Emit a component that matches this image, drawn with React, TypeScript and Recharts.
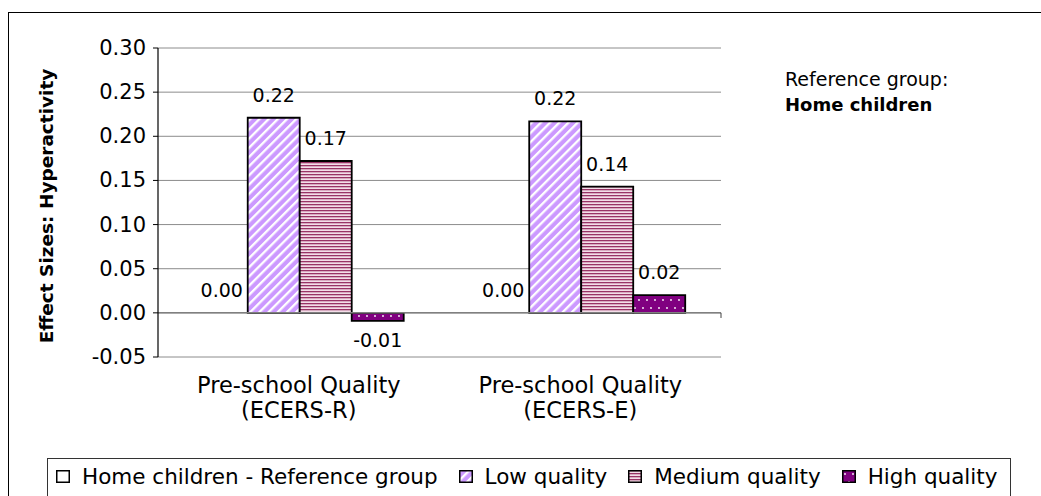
import React from "react";
import { BarChart, Bar, XAxis, YAxis, CartesianGrid, ReferenceLine, LabelList, Rectangle } from "recharts";

// ---------- data ----------
const categories = ["Pre-school Quality\n(ECERS-R)", "Pre-school Quality\n(ECERS-E)"];
const homeValues = [0, 0];
const lowValues = [0.221, 0.217];
const mediumValues = [0.172, 0.143];
const highValues = [-0.009, 0.02];
const yTicks = [-0.05, 0, 0.05, 0.1, 0.15, 0.2, 0.25, 0.3];
const seriesKeys = ["home", "low", "medium", "high"];
const seriesNames = ["Home children - Reference group", "Low quality", "Medium quality", "High quality"];
const yAxisTitle = "Effect Sizes: Hyperactivity";
const noteLine1 = "Reference group:";
const noteLine2 = "Home children";

const data = categories.map((c, i) => ({
  cat: c,
  home: homeValues[i],
  low: lowValues[i],
  medium: mediumValues[i],
  high: highValues[i],
}));

const FONT = "'DejaVu Sans', sans-serif";
const seriesFill: Record<string, string> = {
  home: "#ffffff",
  low: "url(#pLow)",
  medium: "url(#pMed)",
  high: "url(#pHigh)",
};

const PatternDefs = () => (
  <svg width={0} height={0} style={{ position: "absolute" }}>
    <defs>
      <pattern id="pLow" patternUnits="userSpaceOnUse" width={6.5} height={6.5} patternTransform="rotate(45)">
        <rect x={0} y={0} width={6.5} height={6.5} fill="#CC99FF" />
        <rect x={0} y={0} width={2.3} height={6.5} fill="#ffffff" />
      </pattern>
      <pattern id="pMed" patternUnits="userSpaceOnUse" width={6} height={3}>
        <rect x={0} y={0} width={6} height={3} fill="#f3dde8" />
        <rect x={0} y={0} width={6} height={1.3} fill="#993366" />
      </pattern>
      <pattern id="pHigh" patternUnits="userSpaceOnUse" width={16} height={16}>
        <rect x={0} y={0} width={16} height={16} fill="#800080" />
        <circle cx={3} cy={4} r={0.9} fill="#ffffff" />
        <circle cx={11} cy={4} r={0.9} fill="#ffffff" />
        <circle cx={7} cy={12} r={0.9} fill="#ffffff" />
        <circle cx={15} cy={12} r={0.9} fill="#ffffff" />
      </pattern>
    </defs>
  </svg>
);

const YTick = (p: any) => (
  <text x={p.x} y={p.y} textAnchor="end" dominantBaseline="central" fontFamily={FONT} fontSize={21} fill="#000">
    {Number(p.payload.value).toFixed(2)}
  </text>
);

const XTick = (p: any) => {
  const lines = String(p.payload.value).split("\n");
  return (
    <g>
      {lines.map((l: string, i: number) => (
        <text
          key={i}
          x={p.x}
          y={p.y + 28 + i * 25}
          textAnchor="middle"
          dominantBaseline="central"
          fontFamily={FONT}
          fontSize={22.5}
          fill="#000"
        >
          {l}
        </text>
      ))}
    </g>
  );
};

const valueLabel = (x: number, y: number, w: number, h: number, v: number) => {
  const top = Math.min(y, y + h);
  const bottom = Math.max(y, y + h);
  const cy = v < 0 ? bottom + 19 : top - 23;
  return (
    <text x={x + w / 2} y={cy} textAnchor="middle" dominantBaseline="central" fontFamily={FONT} fontSize={19} fill="#000">
      {v.toFixed(2)}
    </text>
  );
};

const renderValueLabel = (props: any) =>
  valueLabel(Number(props.x), Number(props.y), Number(props.width), Number(props.height), Number(props.value));

// zero-height reference bars: draw the (empty) rectangle and its value label from the shape
const HomeShape = (props: any) => {
  const x = Number(props.x);
  const y = Number(props.y);
  const w = Number(props.width);
  const h = Number(props.height) || 0;
  const raw = props.value;
  const v = Array.isArray(raw) ? Number(raw[1]) - Number(raw[0]) : Number(raw ?? props.payload?.home ?? 0);
  return (
    <g>
      <Rectangle {...props} />
      {valueLabel(x, y, w, h, v)}
    </g>
  );
};

const LegendIcon = ({ k }: { k: string }) => (
  <svg width={14} height={13} style={{ display: "block", marginRight: 12, flex: "none" }}>
    <rect x={0.75} y={0.75} width={12.5} height={11.5} fill={seriesFill[k]} stroke="#000" strokeWidth={1.5} />
  </svg>
);

export default function App() {
  return (
    <div style={{ position: "fixed", left: 0, top: 0, width: 1041, height: 496, overflow: "hidden", background: "#fff" }}>
      <PatternDefs />
      <div
        style={{
          position: "absolute",
          left: 8,
          top: 12,
          width: 1100,
          height: 600,
          border: "1px solid #000",
          boxSizing: "border-box",
        }}
      />
      <div style={{ position: "absolute", left: 0, top: 0 }}>
        <BarChart
          width={1041}
          height={496}
          data={data}
          margin={{ top: 48, right: 320, bottom: 79, left: 98 }}
          barCategoryGap="13.4%"
          barGap={0}
        >
          <CartesianGrid vertical={false} stroke="#8c8c8c" strokeWidth={1} />
          <XAxis
            dataKey="cat"
            height={60}
            axisLine={false}
            tickLine={false}
            tickSize={0}
            tickMargin={0}
            interval={0}
            tick={<XTick />}
          />
          <XAxis xAxisId="n" type="number" domain={[0, 2]} hide />
          <YAxis
            width={60}
            domain={[-0.05, 0.3]}
            ticks={yTicks}
            interval={0}
            axisLine={{ stroke: "#000", strokeWidth: 1.2 }}
            tickLine={{ stroke: "#000", strokeWidth: 1 }}
            tickSize={5}
            tickMargin={7}
            tick={<YTick />}
          />
          <ReferenceLine xAxisId="n" x={2} stroke="#808080" strokeWidth={1.5} />
          <ReferenceLine y={0} stroke="#808080" strokeWidth={1.5} />
          <ReferenceLine
            xAxisId="n"
            segment={[
              { x: 1, y: 0 },
              { x: 1, y: -0.0058 },
            ]}
            stroke="#404040"
            strokeWidth={1}
          />
          {seriesKeys.map((k, i) =>
            k === "home" ? (
              <Bar
                key={k}
                dataKey={k}
                name={seriesNames[i]}
                fill={seriesFill[k]}
                stroke="#000"
                strokeWidth={1.8}
                isAnimationActive={false}
                shape={<HomeShape />}
              />
            ) : (
              <Bar
                key={k}
                dataKey={k}
                name={seriesNames[i]}
                fill={seriesFill[k]}
                stroke="#000"
                strokeWidth={1.8}
                isAnimationActive={false}
              >
                <LabelList dataKey={k} content={renderValueLabel} />
              </Bar>
            )
          )}
        </BarChart>
      </div>
      <svg width={1041} height={496} style={{ position: "absolute", left: 0, top: 0, pointerEvents: "none" }}>
        <text
          transform="translate(53,206) rotate(-90)"
          textAnchor="middle"
          fontFamily={FONT}
          fontWeight="bold"
          fontSize={18.5}
          fill="#000"
        >
          {yAxisTitle}
        </text>
        <text x={785} y={86} fontFamily={FONT} fontSize={19} fill="#000">
          {noteLine1}
        </text>
        <text x={785} y={111} fontFamily={FONT} fontWeight="bold" fontSize={18} fill="#000">
          {noteLine2}
        </text>
      </svg>
      <div
        style={{
          position: "absolute",
          left: 47,
          top: 458,
          width: 964,
          height: 80,
          border: "1px solid #333",
          boxSizing: "border-box",
          paddingLeft: 8,
          paddingTop: 5,
          display: "flex",
          alignItems: "flex-start",
        }}
      >
        <div style={{ display: "flex", alignItems: "center", height: 25 }}>
          {seriesKeys.map((k, i) => (
            <div key={k} style={{ display: "flex", alignItems: "center", marginRight: i < seriesKeys.length - 1 ? 21 : 0 }}>
              <LegendIcon k={k} />
              <span
                style={{
                  fontFamily: FONT,
                  fontSize: 21.5,
                  lineHeight: "25px",
                  whiteSpace: "nowrap",
                  color: "#000",
                }}
              >
                {seriesNames[i]}
              </span>
            </div>
          ))}
        </div>
      </div>
    </div>
  );
}
